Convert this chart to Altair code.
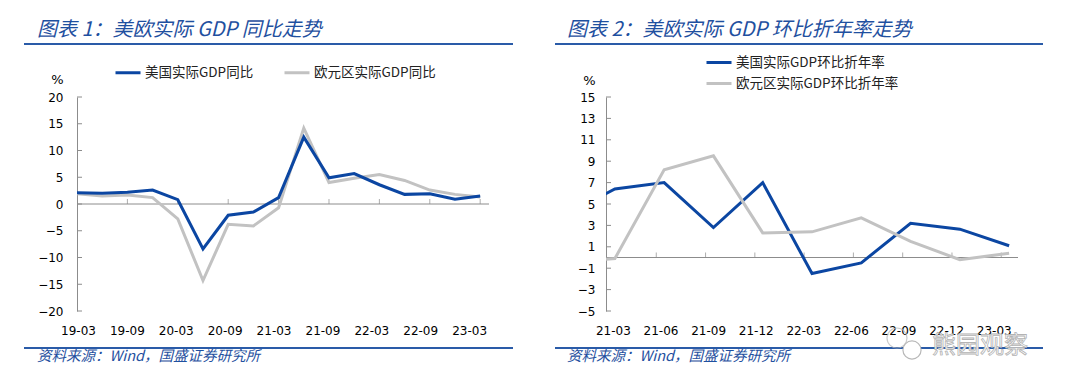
import json
import altair as alt
import pandas as pd

# ---------------- data ----------------
quarters_l = ["19-03", "19-06", "19-09", "19-12", "20-03", "20-06", "20-09", "20-12",
              "21-03", "21-06", "21-09", "21-12", "22-03", "22-06", "22-09", "22-12", "23-03"]
us_yoy = [2.1, 2.0, 2.2, 2.6, 0.8, -8.4, -2.1, -1.5, 1.2, 12.5, 4.9, 5.7, 3.6, 1.8, 1.9, 0.9, 1.5]
eu_yoy = [1.9, 1.5, 1.7, 1.2, -2.8, -14.3, -3.8, -4.1, -0.7, 14.2, 4.0, 4.8, 5.5, 4.4, 2.6, 1.8, 1.3]

quarters_r = ["20-12", "21-03", "21-06", "21-09", "21-12", "22-03", "22-06", "22-09", "22-12", "23-03"]
us_qoq = [4.0, 6.4, 7.0, 2.8, 7.0, -1.5, -0.5, 3.2, 2.65, 1.1]
eu_qoq = [-0.5, -0.1, 8.2, 9.5, 2.3, 2.4, 3.7, 1.5, -0.2, 0.4]

us_yoy_name = "美国实际GDP同比"
eu_yoy_name = "欧元区实际GDP同比"
us_qoq_name = "美国实际GDP环比折年率"
eu_qoq_name = "欧元区实际GDP环比折年率"

title_l = "图表 1：美欧实际 GDP 同比走势"
title_r = "图表 2：美欧实际 GDP 环比折年率走势"
source_text = "资料来源：Wind，国盛证券研究所"
watermark = "熊园观察"

# ---------------- style ----------------
BLUE = "#0b46a2"
GRAY = "#c2c2c2"
AXG = "#8c8c8c"
TBLUE = "#1f50a0"
RBLUE = "#2a5ba8"
CJK = "Noto Sans CJK SC"
LAT = "DejaVu Sans"
W, H = 412, 214

one = pd.DataFrame({"k": [0]})


def panel(quarters, start, us, eu, us_name, eu_name, xdom, ydom, yvals,
          lab_pos, lab_expr, xtick_pos, title, leg, ypad, pct_xy, deco,
          anchor=False, wm=False):
    n = len(quarters)
    idx = list(range(start, start + n))
    df = pd.DataFrame({
        "idx": idx + idx,
        "series": [us_name] * n + [eu_name] * n,
        "value": us + eu,
    })
    xs = alt.Scale(domain=xdom, nice=False, zero=False)
    ys = alt.Scale(domain=ydom, nice=False, zero=False)
    lab = json.dumps(quarters)
    xa = alt.Axis(values=lab_pos, labelExpr=f"{lab}[{lab_expr}]",
                  domain=False, ticks=False, grid=False, title=None,
                  labelFont=LAT, labelFontSize=12, labelColor="#000",
                  labelPadding=14, labelFlush=False, labelOverlap=False)
    ya = alt.Axis(values=yvals, domain=True, domainColor=AXG, domainWidth=1,
                  ticks=False, grid=False, labelFont=LAT, labelFontSize=12,
                  labelColor="#000", labelPadding=ypad, labelFlush=False,
                  labelOverlap=False, title="%", titleAngle=0, titleX=pct_xy[0],
                  titleY=pct_xy[1], titleFont=LAT, titleFontSize=13,
                  titleFontWeight="normal", titleColor="#000", titleAlign="center",
                  titleBaseline="middle")
    legend = alt.Legend(title=None, orient="none", legendX=leg["x"], legendY=leg["y"],
                        direction=leg["dir"], symbolType="stroke", symbolSize=625,
                        symbolStrokeWidth=3, labelFont=CJK, labelFontSize=13.5,
                        labelColor="#222", labelOffset=3, columnPadding=leg["cp"],
                        rowPadding=-5, padding=0, labelLimit=0)
    color = alt.Color("series:N", scale=alt.Scale(domain=[us_name, eu_name], range=[BLUE, GRAY]),
                      legend=legend)

    zero = alt.Chart(pd.DataFrame({"z": [0]})).mark_rule(color=AXG, strokeWidth=1).encode(
        y=alt.Y("z:Q", scale=ys, axis=ya))
    xt = alt.Chart(pd.DataFrame({"t": xtick_pos, "z": [0] * len(xtick_pos)})).mark_tick(
        orient="vertical", size=5, thickness=1, yOffset=-2.5, color=AXG).encode(
        x=alt.X("t:Q", scale=xs, axis=xa), y=alt.Y("z:Q", scale=ys, axis=ya))
    yt = alt.Chart(pd.DataFrame({"v": yvals})).mark_rule(color=AXG, strokeWidth=1).encode(
        y=alt.Y("v:Q", scale=ys, axis=ya), x=alt.value(0), x2=alt.value(5))

    def line(name):
        return alt.Chart(df).transform_filter(alt.datum.series == name).mark_line(
            strokeWidth=3, clip=True).encode(
            x=alt.X("idx:Q", scale=xs, axis=xa),
            y=alt.Y("value:Q", scale=ys, axis=ya),
            color=color)

    if deco["blue_top"]:
        lines = [line(eu_name), line(us_name)]
    else:
        lines = [line(us_name), line(eu_name)]

    ttl = alt.Chart(one).mark_text(text=title, align="left", baseline="middle", font=CJK,
                                   fontSize=20, fontStyle="italic", color=TBLUE).encode(
        x=alt.value(deco["tx"]), y=alt.value(-67))
    r1 = alt.Chart(one).mark_rule(color=RBLUE, strokeWidth=2.2).encode(
        x=alt.value(deco["lx"]), x2=alt.value(deco["rx"]), y=alt.value(-53))
    r2 = alt.Chart(one).mark_rule(color=RBLUE, strokeWidth=2.2).encode(
        x=alt.value(deco["lx"]), x2=alt.value(deco["rx"]), y=alt.value(251))
    src = alt.Chart(one).mark_text(text=source_text, align="left", baseline="middle", font=CJK,
                                   fontSize=14.5, fontStyle="italic", color=TBLUE).encode(
        x=alt.value(deco["tx"]), y=alt.value(260))

    layers = [zero, xt, yt] + lines + [ttl, r1, r2, src]
    if anchor:
        layers.append(alt.Chart(one).mark_rule(strokeOpacity=0).encode(
            x=alt.value(0), x2=alt.value(1), y=alt.value(-89)))
    if wm:
        # watermark: two speech-bubble outlines and outlined text
        layers.append(alt.Chart(one).mark_point(shape="circle", filled=False, size=400,
                                                color="#b8b8b8", strokeWidth=1.2).encode(
            x=alt.value(291), y=alt.value(241)))
        layers.append(alt.Chart(one).mark_point(shape="circle", filled=True, size=330,
                                                fill="#ffffff", stroke="#b8b8b8",
                                                strokeWidth=1.2, opacity=1).encode(
            x=alt.value(306), y=alt.value(253)))
        layers.append(alt.Chart(one).mark_text(text=watermark, align="center", baseline="middle",
                                               font=CJK, fontSize=24, fill="#ffffff",
                                               stroke="#b3b3b3", strokeWidth=0.8).encode(
            x=alt.value(374), y=alt.value(249)))
    return alt.layer(*layers).properties(width=W, height=H)


# label positions (in category units) as they sit in the reference
lab_pos_l = [round(0.04 + 1.94 * k, 3) for k in range(9)]
lab_pos_r = [round(-0.04 + 0.966 * k, 3) for k in range(9)]

left = panel(quarters_l, 0, us_yoy, eu_yoy, us_yoy_name, eu_yoy_name,
             [0, 16.35], [-20, 20], list(range(-20, 21, 5)),
             lab_pos_l, "2 * round((datum.value - 0.04) / 1.94)",
             list(range(2, 17, 2)), title_l,
             {"x": 37, "y": -38.5, "dir": "horizontal", "cp": 24}, 14, (-20, -18),
             {"tx": -40, "lx": -53, "rx": 436, "blue_top": True}, anchor=True)

right = panel(quarters_r, -1, us_qoq, eu_qoq, us_qoq_name, eu_qoq_name,
              [-0.18, 8.18], [-5, 15], list(range(-5, 16, 2)),
              lab_pos_r, "round((datum.value + 0.04) / 0.966) + 1",
              [i - 0.16 for i in range(1, 9)], title_r,
              {"x": 99, "y": -48.5, "dir": "vertical", "cp": 10}, 11, (-17, -17),
              {"tx": -39, "lx": -51, "rx": 437, "blue_top": False}, wm=True)

chart = alt.hconcat(left, right, spacing=117, bounds="flush").resolve_scale(
    color="independent", x="independent", y="independent").configure_view(
    stroke=None).properties(padding={"left": 14, "top": 0, "right": 10, "bottom": 5})

chart.save("out.html", embed_options={"renderer": "svg", "actions": False})
